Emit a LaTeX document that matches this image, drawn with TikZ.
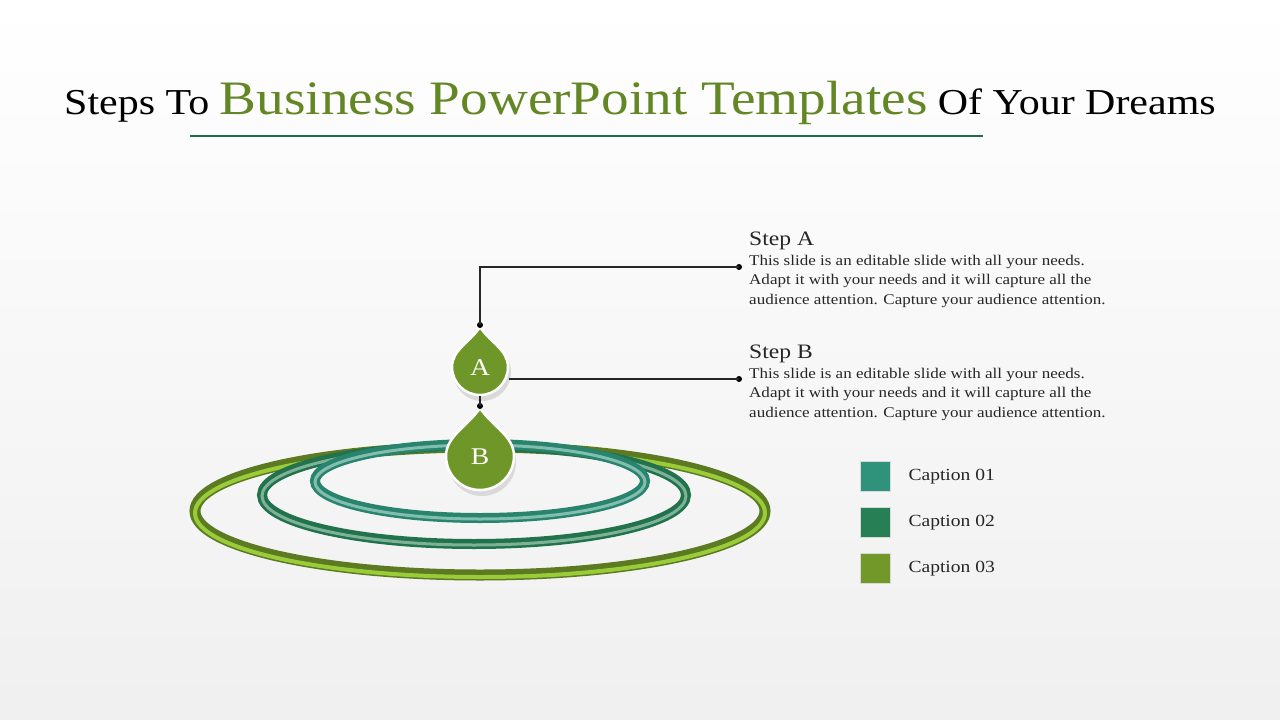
\documentclass[tikz,border=0pt]{standalone}
\usepackage{fontspec}
\setmainfont{Liberation Serif}[FakeStretch=1.15]
\begin{document}
\begin{tikzpicture}[x=1pt,y=-1pt,
  dropfill/.style={fill=drop,draw=white,line width=2.5pt},
  conn/.style={line width=1.3pt,black!85},
  dot/.style={circle,fill=black,inner sep=0pt,minimum size=6pt},
  leg/.style={minimum size=30pt,inner sep=0pt,draw=black!15},
  captxt/.style={anchor=west,font=\fontsize{17}{20}\selectfont,text=black!85},
  body/.style={anchor=north west,align=left,font=\fontsize{14.8}{19.5}\selectfont,text=black!85,inner sep=0pt},
  head/.style={anchor=south west,font=\fontsize{20.5}{24}\selectfont,text=black!85,inner sep=0pt}]
\definecolor{drop}{HTML}{6E9628}
\definecolor{c1}{HTML}{2E937A}
\definecolor{c2}{HTML}{267F55}
\definecolor{c3}{HTML}{72982A}
\definecolor{lime}{HTML}{9ACC3A}
\shade[top color=white,bottom color=black!6] (0,0) rectangle (1280,720);
\useasboundingbox (0,0) rectangle (1280,720);
% title
\node (title) at (640,103) {\fontsize{36.5}{40}\selectfont Steps To \textcolor{drop!90!black}{\fontsize{48}{52}\selectfont Business PowerPoint Templates} Of Your Dreams};
\draw[line width=2.5pt,color=c2!85!black] (190,136) -- (983,136);
% rings
\draw[line width=11pt,c3!80!black] (480,511) ellipse [x radius=285,y radius=64];
\draw[line width=4pt,lime] (480,513) ellipse [x radius=285,y radius=64];
\draw[line width=10pt,c2!90!black] (474,495) ellipse [x radius=212,y radius=49];
\draw[line width=3pt,c2!60!white] (474,496) ellipse [x radius=212,y radius=49];
\draw[line width=10pt,c1!90!black] (480,481) ellipse [x radius=165,y radius=37];
\draw[line width=3pt,c1!60!white] (480,482) ellipse [x radius=165,y radius=37];
% drops
\fill[black!15] (482,372) circle (29);
\path[dropfill] (480,327) .. controls (490,342) and (508,350) .. (508,367) arc (0:180:28) .. controls (452,350) and (470,342) .. (480,327) -- cycle;
\node[text=white,font=\fontsize{24}{24}\selectfont] (A) at (480,368) {A};
\fill[black!15] (482,462) circle (34);
\path[dropfill] (480,408) .. controls (492,426) and (514,436) .. (514,456) arc (0:180:34) .. controls (446,436) and (468,426) .. (480,408) -- cycle;
\node[text=white,font=\fontsize{24}{24}\selectfont] (B) at (480,457) {B};
% connectors
\node[dot] (dA) at (480,325) {};
\node[dot] (eA) at (739,267) {};
\node[dot] (dB) at (480,406) {};
\node[dot] (eB) at (739,379) {};
\coordinate (aR) at (509,379);
\coordinate (aBot) at (480,396);
\draw[conn] (dA.center) |- (eA.center);
\draw[conn] (aR) -- (eB.center);
\draw[conn] (aBot) -- (dB.center);
% texts
\node[head] (hA) at (749,250) {Step A};
\node[body] (tA) at (749,255) {This slide is an editable slide with all your needs.\\Adapt it with your needs and it will capture all the\\audience attention. Capture your audience attention.};
\node[head] (hB) at (749,363) {Step B};
\node[body] (tB) at (749,368) {This slide is an editable slide with all your needs.\\Adapt it with your needs and it will capture all the\\audience attention. Capture your audience attention.};
% legend
\node[leg,fill=c1] (l1) at (875,476) {};
\node[leg,fill=c2] (l2) at (875,522) {};
\node[leg,fill=c3] (l3) at (875,568) {};
\node[captxt] at (905,477) {Caption 01};
\node[captxt] at (905,523) {Caption 02};
\node[captxt] at (905,569) {Caption 03};
\end{tikzpicture}
\end{document}
